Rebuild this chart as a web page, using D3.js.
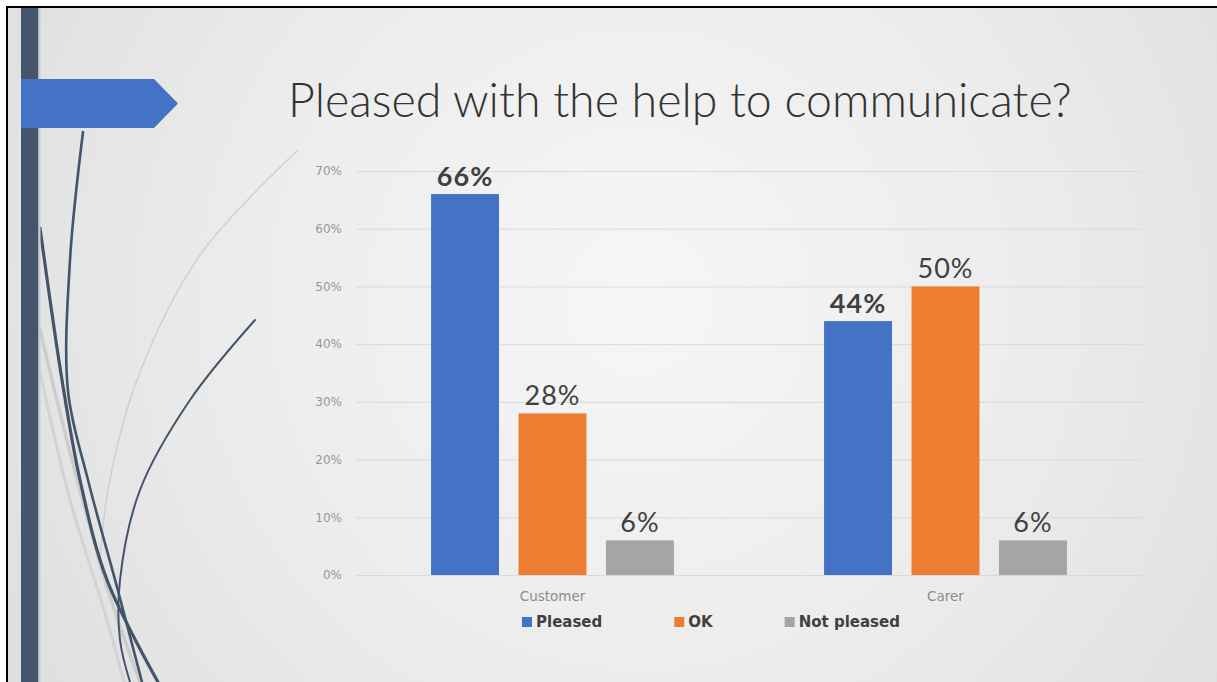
<!DOCTYPE html>
<html>
<head>
<meta charset="utf-8">
<script src="https://cdn.jsdelivr.net/npm/d3@7"></script>
<style>
  html, body { margin: 0; padding: 0; background: #ffffff; overflow: hidden; }
  svg { display: block; }
</style>
</head>
<body>
<svg id="chart" width="1217" height="682"></svg>
<script>
// ---- data ----
const title = "Pleased with the help to communicate?";
const categories = ["Customer", "Carer"];
const seriesNames = ["Pleased", "OK", "Not pleased"];
const pleased = [0.66, 0.44];
const ok = [0.28, 0.50];
const notPleased = [0.06, 0.06];
const yTicks = [0, 0.1, 0.2, 0.3, 0.4, 0.5, 0.6, 0.7];
const seriesColors = ["#4472c4", "#ed7d31", "#a5a5a5"];

const seriesValues = [pleased, ok, notPleased];
const rows = categories.map((c, i) => ({
  category: c,
  values: seriesNames.map((s, j) => ({ series: s, value: seriesValues[j][i] }))
}));

const W = 1217, H = 682;
const svg = d3.select("#chart");
const defs = svg.append("defs");

// ---- slide background ----
const grad = defs.append("radialGradient")
  .attr("id", "bg").attr("gradientUnits", "userSpaceOnUse")
  .attr("cx", 640).attr("cy", 300).attr("r", 720);
grad.append("stop").attr("offset", "0%").attr("stop-color", "#f6f6f6");
grad.append("stop").attr("offset", "55%").attr("stop-color", "#ececec");
grad.append("stop").attr("offset", "100%").attr("stop-color", "#dfdfdf");

svg.append("rect").attr("x", 7).attr("y", 7).attr("width", W - 7).attr("height", H - 7)
  .attr("fill", "url(#bg)");

// decorative swooshes at the left edge
const swoosh = d3.line().curve(d3.curveCatmullRom.alpha(0.5));
const deco = svg.append("g").attr("fill", "none").attr("stroke-linecap", "round");
const lightPaths = [
  { pts: [[298, 150], [200, 255], [137, 380], [108, 490], [100, 560]], w: 1.4, c: "#cfcfcf" },
  { pts: [[40, 330], [72, 460], [108, 590], [140, 682]], w: 3.5, c: "#cdcdcd" },
  { pts: [[40, 372], [70, 500], [104, 610], [124, 682]], w: 3, c: "#d3d3d3" }
];
const darkPaths = [
  { pts: [[40, 228], [62, 380], [80, 480], [107, 580], [158, 682]], w: 3.2 },
  { pts: [[83, 132], [70, 260], [68, 391], [88, 480], [117, 587], [142, 682]], w: 2.6 },
  { pts: [[255, 320], [190, 400], [140, 490], [120, 580], [120, 640], [130, 682]], w: 2 }
];
lightPaths.forEach(p => deco.append("path").attr("d", swoosh(p.pts))
  .attr("stroke", p.c).attr("stroke-width", p.w));
darkPaths.forEach(p => deco.append("path").attr("d", swoosh(p.pts))
  .attr("stroke", "#44546a").attr("stroke-width", p.w));

// left band and pointer
svg.append("rect").attr("x", 21).attr("y", 7).attr("width", 17.5).attr("height", H - 7)
  .attr("fill", "#44546a");
svg.append("rect").attr("x", 38.5).attr("y", 7).attr("width", 2).attr("height", H - 7)
  .attr("fill", "#c9ccd8");
svg.append("path")
  .attr("d", d3.line()([[21, 79], [154, 79], [178, 103.5], [154, 128], [21, 128]]) + "Z")
  .attr("fill", "#4472c4");

// frame lines
svg.append("rect").attr("x", 6).attr("y", 6).attr("width", W - 6).attr("height", 2).attr("fill", "#000");
svg.append("rect").attr("x", 6).attr("y", 6).attr("width", 2).attr("height", H - 6).attr("fill", "#000");

// ---- title ----
const titleText = svg.append("text")
  .attr("x", 288).attr("y", 117)
  .attr("font-family", "Lato, 'DejaVu Sans', sans-serif")
  .attr("font-size", 42)
  .attr("font-weight", 300)
  .attr("fill", "#333333")
  .text(title);
{
  const len = titleText.node().getComputedTextLength();
  titleText.attr("font-size", 42 * 784 / len);
}

// ---- chart ----
const plot = { left: 356, right: 1142, top: 171, bottom: 575 };
const x0 = d3.scaleBand().domain(categories)
  .range([plot.left, plot.right]).paddingInner(0.382).paddingOuter(0.191);
const x1 = d3.scaleBand().domain(seriesNames)
  .range([0, x0.bandwidth()]).paddingInner(0.223).paddingOuter(0);
const y = d3.scaleLinear().domain([0, 0.7]).range([plot.bottom, plot.top]);
const color = d3.scaleOrdinal().domain(seriesNames).range(seriesColors);

// gridlines + y labels
const yAxis = d3.axisLeft(y).tickValues(yTicks).tickFormat(d3.format(".0%"))
  .tickSize(-(plot.right - plot.left)).tickPadding(14);
const gy = svg.append("g").attr("transform", `translate(${plot.left},0)`).call(yAxis);
gy.select(".domain").remove();
gy.selectAll(".tick line").attr("stroke", "#d9d9d9").attr("stroke-width", 1);
gy.selectAll(".tick text")
  .attr("font-family", "'DejaVu Sans', sans-serif").attr("font-size", 12)
  .attr("fill", "#979797");

// bars
const groups = svg.append("g").selectAll("g").data(rows).join("g")
  .attr("transform", d => `translate(${x0(d.category)},0)`);
groups.selectAll("rect").data(d => d.values).join("rect")
  .attr("x", d => x1(d.series))
  .attr("y", d => y(d.value))
  .attr("width", x1.bandwidth())
  .attr("height", d => y(0) - y(d.value))
  .attr("fill", d => color(d.series));

// value labels
groups.selectAll("text.val").data(d => d.values).join("text")
  .attr("class", "val")
  .attr("x", d => x1(d.series) + x1.bandwidth() / 2)
  .attr("y", d => y(d.value) - 8)
  .attr("text-anchor", "middle")
  .attr("font-family", "Lato, sans-serif")
  .attr("font-size", 27)
  .attr("letter-spacing", 1)
  .attr("font-weight", d => d.series === "Pleased" ? 700 : 400)
  .attr("fill", "#404040")
  .text(d => d3.format(".0%")(d.value));

// category labels
const xAxis = d3.axisBottom(x0).tickSize(0).tickPadding(16);
const gx = svg.append("g").attr("transform", `translate(0,${plot.bottom})`).call(xAxis);
gx.select(".domain").remove();
gx.selectAll(".tick text")
  .attr("font-family", "'DejaVu Sans', sans-serif").attr("font-size", 13.5)
  .attr("fill", "#8c8c8c");

// legend
const legend = svg.append("g").attr("transform", "translate(522,622)");
let lx = 0;
seriesNames.forEach(name => {
  const item = legend.append("g").attr("transform", `translate(${lx},0)`);
  item.append("rect").attr("x", 0).attr("y", -5).attr("width", 10).attr("height", 10)
    .attr("fill", color(name));
  const t = item.append("text").attr("x", 14).attr("y", 0).attr("dy", "0.36em")
    .attr("font-family", "'DejaVu Sans', sans-serif").attr("font-size", 15).attr("font-weight", 700)
    .attr("fill", "#404040").text(name);
  lx += 14 + t.node().getComputedTextLength() + 72;
});
</script>
</body>
</html>
